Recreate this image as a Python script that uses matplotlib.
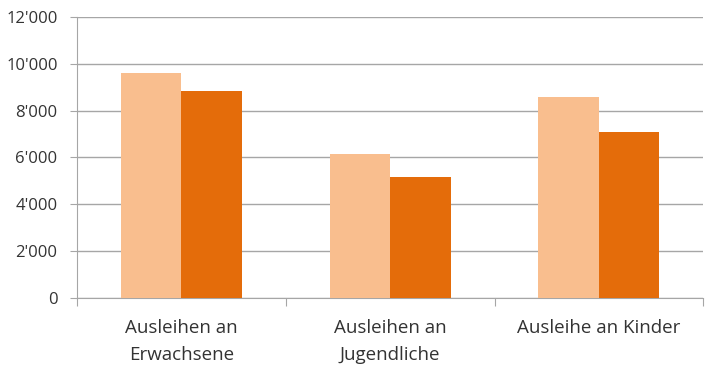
"""
Ausleihen nach Altersgruppe - grouped bar chart
Output: out.png
"""
import numpy as np
import matplotlib.pyplot as plt
from matplotlib.ticker import FuncFormatter

# Data
categories = ["Ausleihen an\nErwachsene", "Ausleihen an\nJugendliche", "Ausleihe an Kinder"]
series_a = [9600, 6150, 8600]
series_b = [8850, 5150, 7100]

light = "#F9BE8E"
dark = "#E46C0A"
grid_col = "#A6A6A6"

plt.rcParams["font.family"] = ["Open Sans", "DejaVu Sans"]

fig = plt.figure(figsize=(7.1, 3.67), dpi=100)
ax = fig.add_axes([0.1085, 0.188, 0.882, 0.766])

x = np.arange(len(categories))
w = 0.29
ax.bar(x - w / 2, series_a, width=w, color=light, zorder=3)
ax.bar(x + w / 2, series_b, width=w, color=dark, zorder=3)

ax.set_xlim(-0.5, len(categories) - 0.5)
ax.set_ylim(0, 12000)
ax.set_yticks(range(0, 12001, 2000))
ax.yaxis.set_major_formatter(FuncFormatter(lambda v, p: f"{int(v):,}".replace(",", "'")))
ax.grid(axis="y", color=grid_col, linewidth=1, zorder=0)

# category labels in the middle, tick marks at boundaries
ax.set_xticks(np.arange(-0.5, len(categories)), minor=False)
ax.set_xticklabels([])
ax.set_xticks(x, minor=True)
ax.set_xticklabels(categories, minor=True, fontsize=13.5, color="#333333", linespacing=1.65)
ax.tick_params(axis="x", which="minor", length=0, pad=15)
ax.tick_params(axis="x", which="major", length=6, color=grid_col)
ax.tick_params(axis="y", length=5, pad=9, color=grid_col, labelsize=12, labelcolor="#333333")

for s in ["top", "right"]:
    ax.spines[s].set_visible(False)
for s in ["left", "bottom"]:
    ax.spines[s].set_color(grid_col)

fig.savefig("out.png", dpi=100)
